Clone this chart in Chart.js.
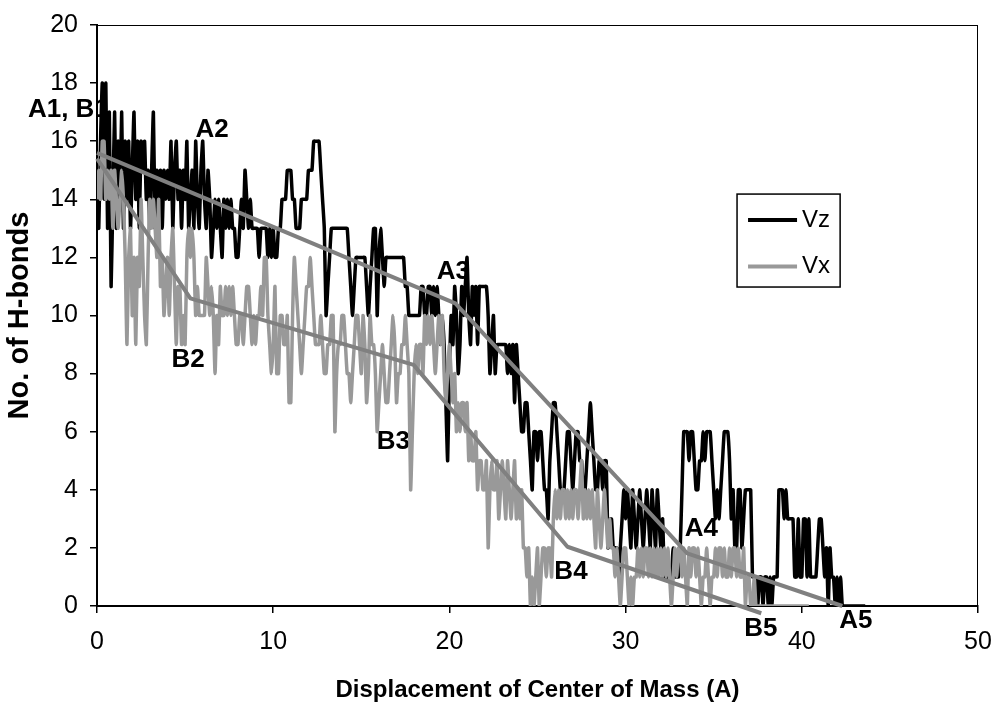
<!DOCTYPE html>
<html>
<head>
<meta charset="utf-8">
<script src="https://cdn.jsdelivr.net/npm/chart.js@4.4.1/dist/chart.umd.min.js"></script>
<style>
  html, body { margin: 0; padding: 0; background: #ffffff; }
  #wrap { width: 997px; height: 713px; }
</style>
</head>
<body>
<div id="wrap"><canvas id="hbonds" width="997" height="713"></canvas></div>
<script>
// Sampling of the pulling trajectory: one H-bond count every 0.1 A of displacement
const sampleStep = 0.1;

// Number of H-bonds while pulling along z (Vz), one row per 2 A
const vzHbonds = [
  15,13,16,18,14,18,13,17,11,14,17,13,16,14,17,13,16,14,16,13,
  15,17,14,16,13,16,15,16,14,15,13,15,17,13,15,14,15,13,15,14,
  15,14,16,13,15,16,14,15,13,15,14,16,13,14,15,13,16,14,13,15,
  16,14,13,15,14,12,13,14,13,14,13,12,14,13,14,13,14,13,13,12,
  12,13,14,13,15,14,13,14,13,13,13,13,12,13,13,13,13,12,13,12,
  13,12,12,13,13,14,14,14,15,15,15,14,14,13,13,13,14,14,14,14,
  15,15,15,16,16,16,16,15,14,13,10,11,12,13,13,13,13,13,13,13,
  13,13,13,12,11,10,11,12,12,12,12,12,12,11,10,11,12,13,13,10,
  12,13,12,11,12,12,12,12,12,12,12,12,12,12,12,11,11,10,10,10,
  10,10,10,10,11,11,10,10,11,11,10,11,10,11,10,9,10,9,7,5,
  8,10,9,11,10,8,9,11,10,11,12,10,9,11,10,11,9,11,11,11,
  11,11,10,8,9,10,8,9,9,9,9,9,9,8,9,8,9,7,9,8,
  7,6,6,7,7,6,5,4,6,6,5,6,6,5,4,4,3,5,6,7,
  7,6,5,4,4,4,5,6,6,5,4,5,6,6,5,5,4,4,5,6,
  7,6,5,4,4,5,5,4,5,5,2,3,3,2,2,2,1,2,3,4,
  3,4,3,2,4,3,2,3,4,3,2,3,4,3,2,4,3,2,4,3,
  2,3,1,1,1,1,1,2,1,1,1,2,4,6,6,6,5,6,6,5,
  4,4,5,5,6,5,6,6,6,5,4,3,4,3,4,5,6,6,6,5,
  3,4,2,2,4,4,2,3,4,4,4,4,1,1,1,0,1,1,0,1,
  1,0,1,0,1,1,1,4,4,4,3,4,3,3,3,3,1,1,3,1,
  1,3,3,1,3,1,1,1,1,2,3,3,2,1,2,0,2,1,1,0,
  1,0,1,0,0,0,0,0,0,0,0,0,0,0,0,0,0
];

// Number of H-bonds while pulling along x (Vx), one row per 2 A
const vxHbonds = [
  14,15,14,16,16,14,15,14,15,13,15,14,13,14,15,14,12,9,12,13,
  10,12,9,12,11,14,12,10,9,12,14,13,14,13,12,14,11,12,10,11,
  12,10,12,13,11,9,11,11,9,10,9,12,13,12,13,12,10,11,10,10,
  10,10,12,11,10,11,10,8,10,9,11,10,10,11,10,11,10,11,10,9,
  9,10,10,9,10,11,11,10,9,10,9,10,10,11,10,12,12,10,9,8,
  9,11,8,8,10,10,9,9,10,7,7,10,12,11,10,9,8,9,10,11,
  11,12,11,10,9,9,9,10,9,8,8,9,9,10,10,6,8,9,9,10,
  10,9,8,8,7,8,9,10,10,9,8,10,9,7,8,10,9,9,8,6,
  7,8,9,8,7,7,8,9,10,9,7,8,8,9,9,10,9,8,4,6,
  8,9,8,9,9,8,10,9,10,9,10,9,8,9,10,9,10,8,7,8,
  9,8,7,8,6,7,6,7,7,6,7,5,6,5,5,6,4,5,5,4,
  4,5,2,4,5,4,4,5,3,4,5,4,3,5,4,3,4,5,3,4,
  3,4,2,2,1,2,0,1,0,1,2,0,1,2,2,1,2,2,1,3,
  4,3,4,3,4,4,3,4,3,4,3,4,4,3,4,5,3,4,3,4,
  3,4,3,2,4,3,2,3,4,3,2,3,2,2,1,2,1,0,1,2,
  2,1,0,1,0,1,1,2,1,2,1,2,2,1,2,1,2,1,2,1,
  2,1,2,1,2,1,0,1,2,1,2,2,1,2,1,0,2,1,2,2,
  1,2,1,0,1,1,2,1,0,1,1,2,1,2,2,1,2,1,1,2,
  1,2,2,1,2,1,1,2,0,1,1,0,0,1,0,0,0,0,0,0,
  0,0,0,0,0,0,0,0,0,0,0,0,0,0,0,0,0,0,0,0,
  0,0,0,0,0
];

// Piecewise trend through the stages A1..A5 (Vz) and B1..B5 (Vx)
const trendAx = [0, 20.34, 33.5, 42.3];
const trendAy = [15.6, 10.42, 1.81, 0];
const trendBx = [0, 5.3, 17.97, 26.7, 37.7];
const trendBy = [15.4, 10.59, 8.3, 2.04, -0.25];

// Stage labels placed in data units
const stageNames = ['A1, B1', 'A2', 'A3', 'A4', 'A5', 'B2', 'B3', 'B4', 'B5'];
const stageX = [-3.92, 6.53, 20.23, 34.3, 43.07, 5.17, 16.82, 26.9, 37.67];
const stageY = [17.07, 16.39, 11.5, 2.65, -0.52, 8.48, 5.64, 1.17, -0.79];
const stageAlign = ['left', 'center', 'center', 'center', 'center', 'center', 'center', 'center', 'center'];

const seriesNames = ['Vz', 'Vx'];
const seriesColors = ['#000000', '#999999'];
const trendColor = '#808080';

const toPoints = (vals) => vals.map((v, i) => ({ x: +(i * sampleStep).toFixed(2), y: v }));
const zipPoints = (xs, ys) => xs.map((x, i) => ({ x: x, y: ys[i] }));

const FONT = "'Liberation Sans', Arial, Helvetica, sans-serif";

const frameAndLabels = {
  id: 'frameAndLabels',
  beforeDatasetsDraw(chart) {
    const { ctx, chartArea: a, scales: { x, y } } = chart;
    ctx.save();
    ctx.strokeStyle = '#000000';
    ctx.lineWidth = 1;
    ctx.strokeRect(a.left + 0.5, a.top + 0.5, a.right - a.left - 1, a.bottom - a.top);
    ctx.fillStyle = '#000000';
    ctx.font = 'bold 26px ' + FONT;
    ctx.textBaseline = 'middle';
    stageNames.forEach((name, i) => {
      ctx.textAlign = stageAlign[i];
      ctx.fillText(name, x.getPixelForValue(stageX[i]), y.getPixelForValue(stageY[i]));
    });
    ctx.restore();
  },
  afterDatasetsDraw(chart) {
    const { ctx, chartArea: a } = chart;
    const w = a.right - a.left, h = a.bottom - a.top;
    const bx = a.left + w * 0.7265, by = a.top + h * 0.291;
    const bw = w * 0.117, bh = h * 0.160;
    ctx.save();
    ctx.fillStyle = '#ffffff';
    ctx.fillRect(bx, by, bw, bh);
    ctx.strokeStyle = '#000000';
    ctx.lineWidth = 1.5;
    ctx.strokeRect(bx, by, bw, bh);
    ctx.font = '24px ' + FONT;
    ctx.textBaseline = 'middle';
    ctx.textAlign = 'left';
    seriesNames.forEach((name, i) => {
      const ly = by + bh * (0.28 + 0.5 * i);
      ctx.strokeStyle = seriesColors[i];
      ctx.lineWidth = 4;
      ctx.beginPath();
      ctx.moveTo(bx + 11, ly);
      ctx.lineTo(bx + 60, ly);
      ctx.stroke();
      ctx.fillStyle = '#000000';
      ctx.fillText(name, bx + 65, ly);
    });
    ctx.restore();
  }
};

new Chart(document.getElementById('hbonds'), {
  type: 'line',
  data: {
    datasets: [
      { label: 'Trend A', data: zipPoints(trendAx, trendAy), borderColor: trendColor, borderWidth: 4,
        pointRadius: 0, tension: 0, order: 0, clip: 12, borderJoinStyle: 'round' },
      { label: 'Trend B', data: zipPoints(trendBx, trendBy), borderColor: trendColor, borderWidth: 4,
        pointRadius: 0, tension: 0, order: 0, clip: 12, borderJoinStyle: 'round' },
      { label: seriesNames[1], data: toPoints(vxHbonds), borderColor: seriesColors[1], borderWidth: 3.5,
        pointRadius: 0, tension: 0.15, order: 1, borderJoinStyle: 'round' },
      { label: seriesNames[0], data: toPoints(vzHbonds), borderColor: seriesColors[0], borderWidth: 3.5,
        pointRadius: 0, tension: 0.15, order: 2, borderJoinStyle: 'round' }
    ]
  },
  options: {
    responsive: false,
    animation: false,
    devicePixelRatio: 1,
    layout: { padding: { top: 25, right: 19, left: 0, bottom: 0 } },
    plugins: { legend: { display: false }, tooltip: { enabled: false } },
    scales: {
      x: {
        type: 'linear', min: 0, max: 50,
        ticks: { stepSize: 10, color: '#000', font: { family: FONT, size: 25 }, padding: 14, maxRotation: 0 },
        grid: { drawOnChartArea: false, drawTicks: true, tickLength: 7, color: '#000', lineWidth: 1.5 },
        border: { display: true, color: '#000', width: 2 },
        title: { display: true, text: 'Displacement of Center of Mass (A)', color: '#000',
                 font: { family: FONT, size: 24, weight: 'bold' }, padding: { top: 0, bottom: 8 } },
        afterFit(scale) { scale.height = 107; scale.paddingLeft = 0; scale.paddingRight = 0; }
      },
      y: {
        type: 'linear', min: 0, max: 20,
        ticks: { stepSize: 2, color: '#000', font: { family: FONT, size: 25 }, padding: 12 },
        grid: { drawOnChartArea: false, drawTicks: true, tickLength: 7, color: '#000', lineWidth: 1.5 },
        border: { display: true, color: '#000', width: 2 },
        title: { display: true, text: 'No. of H-bonds', color: '#000',
                 font: { family: FONT, size: 29, weight: 'bold' }, padding: { top: 3, bottom: 0 } },
        afterFit(scale) { scale.width = 97; scale.paddingTop = 0; scale.paddingBottom = 0; }
      }
    }
  },
  plugins: [frameAndLabels]
});
</script>
</body>
</html>
